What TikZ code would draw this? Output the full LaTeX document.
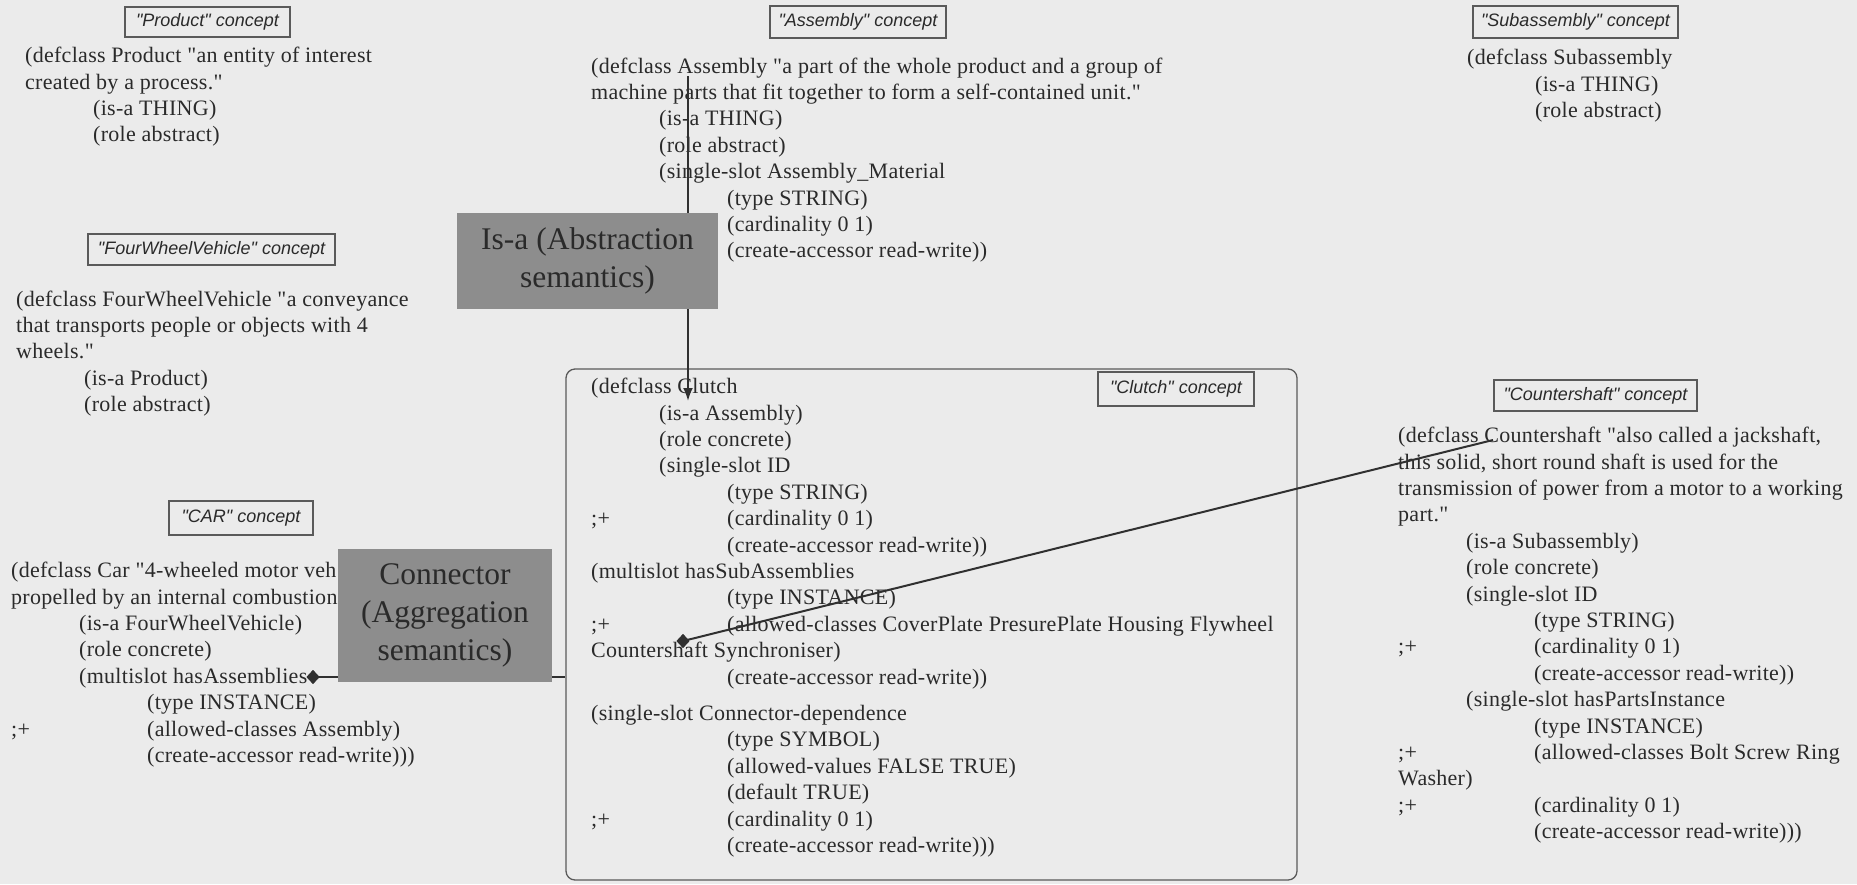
\documentclass[tikz,border=0pt]{standalone}
\usepackage{fontspec}
\setmainfont{Liberation Serif}[Ligatures=TeXOff,LetterSpace=1.3]
\newfontfamily\labelfont{Liberation Sans}
\newfontfamily\boxfont{Liberation Serif}[Ligatures=TeXOff]
\usetikzlibrary{arrows.meta,shapes.geometric}

\definecolor{paper}{HTML}{EBEBEB}
\definecolor{ink}{HTML}{2A2A2A}
\definecolor{frame}{HTML}{5A5A5A}
\definecolor{boxgrey}{HTML}{8D8D8D}
\definecolor{wire}{HTML}{303030}

% tab stops used in the CLIPS class listings
\newcommand{\ia}{\hspace*{68pt}}
\newcommand{\ib}{\hspace*{136pt}}
\newcommand{\pl}{\makebox[136pt][l]{;+}}

\begin{document}
\begin{tikzpicture}[x=1pt,y=-1pt,
  code/.style={anchor=north west, inner sep=0pt, align=left, text=ink,
    font=\fontsize{22}{26.4}\selectfont},
  concept/.style={draw=frame, line width=1.2pt, fill=paper, inner sep=0pt,
    text=ink, font=\labelfont\itshape\fontsize{18}{20}\selectfont},
  semantic/.style={fill=boxgrey, inner sep=0pt, align=center, text=ink,
    font=\boxfont\fontsize{31.5}{38}\selectfont},
  link/.style={draw=wire, line width=2pt},
  dia/.style={diamond, fill=wire, inner sep=0pt, minimum width=13pt, minimum height=14pt}]

\fill[paper] (0,0) rectangle (1857,884);
\useasboundingbox (0,0) rectangle (1857,884);

% ---- concept labels
\node[concept, minimum width=165pt, minimum height=30pt] (lProduct) at (207.5,22) {"Product" concept};
\node[concept, minimum width=176pt, minimum height=32pt] (lAssembly) at (858,22) {"Assembly" concept};
\node[concept, minimum width=205pt, minimum height=32pt] (lSub) at (1575.5,22) {"Subassembly" concept};
\node[concept, minimum width=247pt, minimum height=31pt] (lFwv) at (211.5,249.5) {"FourWheelVehicle" concept};
\node[concept, minimum width=144pt, minimum height=34pt] (lCar) at (241,518) {"CAR" concept};
\node[concept, minimum width=203pt, minimum height=31pt] (lCs) at (1595.5,395.5) {"Countershaft" concept};

% ---- Clutch frame with its label
\node[draw=frame, line width=1.3pt, rounded corners=9pt, inner sep=0pt,
      minimum width=731pt, minimum height=511pt] (clutch) at (931.5,624.5) {};
\node[concept, minimum width=156pt, minimum height=34pt] (lClutch) at (1176,389) {"Clutch" concept};

% ---- class listings
\node[code] (product) at (25,44) {\strut(defclass Product "an entity of interest\\
created by a process."\\
\ia(is-a THING)\\
\ia(role abstract)};

\node[code] (assembly) at (591,54.5) {\strut(defclass Assembly "a part of the whole product and a group of\\
machine parts that fit together to form a self-contained unit."\\
\ia(is-a THING)\\
\ia(role abstract)\\
\ia(single-slot Assembly\_Material\\
\ib(type STRING)\\
\ib(cardinality 0 1)\\
\ib(create-accessor read-write))};

\node[code] (subassembly) at (1467,46) {\strut(defclass Subassembly\\
\ia(is-a THING)\\
\ia(role abstract)};

\node[code] (fwv) at (16,287.5) {\strut(defclass FourWheelVehicle "a conveyance\\
that transports people or objects with 4\\
wheels."\\
\ia(is-a Product)\\
\ia(role abstract)};

\node[code] (car) at (11,559) {\strut(defclass Car "4-wheeled motor veh\\
propelled by an internal combustion\\
\ia(is-a FourWheelVehicle)\\
\ia(role concrete)\\
\ia(multislot hasAssemblies\\
\ib(type INSTANCE)\\
\pl(allowed-classes Assembly)\\
\ib(create-accessor read-write)))};

\node[code] (clutchcode) at (591,375) {\strut(defclass Clutch\\
\ia(is-a Assembly)\\
\ia(role concrete)\\
\ia(single-slot ID\\
\ib(type STRING)\\
\pl(cardinality 0 1)\\
\ib(create-accessor read-write))\\
(multislot hasSubAssemblies\\
\ib(type INSTANCE)\\
\pl(allowed-classes CoverPlate PresurePlate Housing Flywheel\\
Countershaft Synchroniser)\\
\ib(create-accessor read-write))\\[10pt]
(single-slot Connector-dependence\\
\ib(type SYMBOL)\\
\ib(allowed-values FALSE TRUE)\\
\ib(default TRUE)\\
\pl(cardinality 0 1)\\
\ib(create-accessor read-write)))};

\node[code] (countershaft) at (1398,424) {\strut(defclass Countershaft "also called a jackshaft,\\
this solid, short round shaft is used for the\\
transmission of power from a motor to a working\\
part."\\
\ia(is-a Subassembly)\\
\ia(role concrete)\\
\ia(single-slot ID\\
\ib(type STRING)\\
\pl(cardinality 0 1)\\
\ib(create-accessor read-write))\\
\ia(single-slot hasPartsInstance\\
\ib(type INSTANCE)\\
\pl(allowed-classes Bolt Screw Ring\\
Washer)\\
\pl(cardinality 0 1)\\
\ib(create-accessor read-write)))};

% ---- connectors
\coordinate (asmSlot) at (688,76);
\coordinate (clutchIsa) at (688,401);
\coordinate (csName) at (1493,440);
\node[dia] (carDia) at (313,677) {};
\node[dia] (clDia) at (683,641) {};

\draw[link, -{Latex[length=13pt,width=10pt]}] (asmSlot) -- (clutchIsa);
\draw[link] (carDia.center) -- (carDia -| clutch.west);
\draw[link] (clDia.center) -- (csName);
\node[dia] at (carDia) {};
\node[dia] at (clDia) {};

% ---- relationship kinds
\node[semantic, minimum width=261pt, minimum height=96pt] (isa) at (587.5,261) {Is-a (Abstraction\\semantics)};
\node[semantic, minimum width=214pt, minimum height=133pt] (connector) at (445,615.5) {Connector\\(Aggregation\\semantics)};

\end{tikzpicture}
\end{document}
